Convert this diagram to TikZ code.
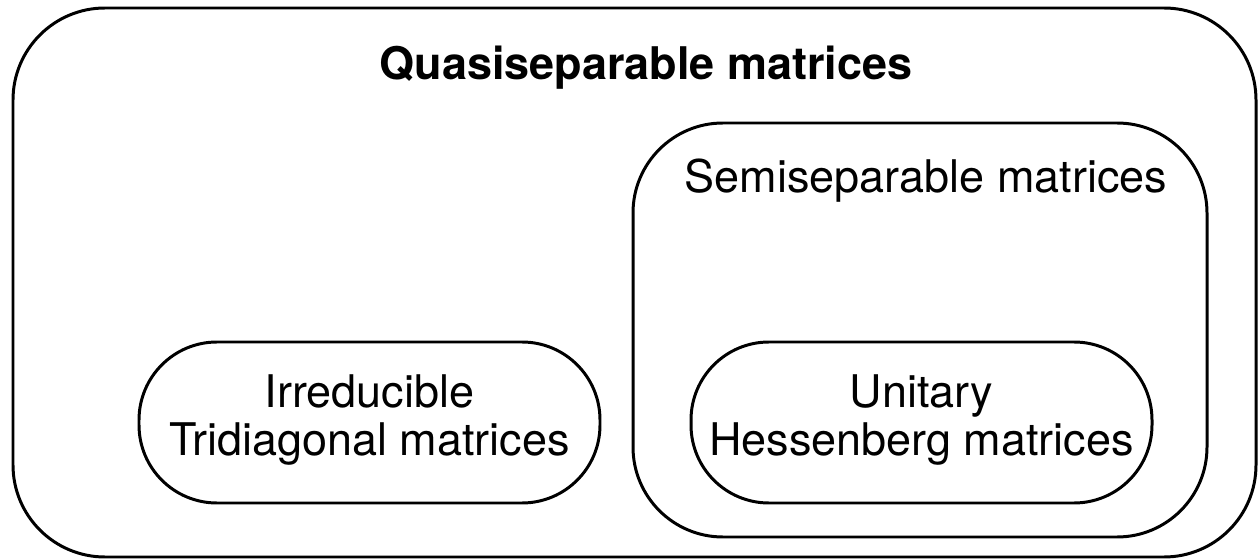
\documentclass[tikz,border=0pt]{standalone}
\usepackage{fontspec}
\setmainfont{TeX Gyre Heros}
\usepackage{tikz}

\begin{document}
\begin{tikzpicture}[x=0.02cm,y=-0.02cm,
    frame/.style={line width=1.7pt},
    lbl/.style={font=\fontsize{25.6}{27}\selectfont, align=center, inner sep=0pt}]
      \useasboundingbox (0,0) rectangle (1258,560);
      \draw [frame, rounded corners=1.84cm] (13,8) rectangle (1256,557);
      \node [lbl, font=\fontsize{25.6}{27}\selectfont\bfseries, anchor=base] (quasi) at (646,80) {Quasiseparable matrices};
      \draw [frame, rounded corners=1.8cm] (633,123) rectangle (1207,537);
      \node [lbl, anchor=base] (semi) at (926,193) {Semiseparable matrices};
      \draw [frame, rounded corners=1.56cm] (139,342) rectangle (600,503);
      \node [lbl] (tridiag) at (369.5,420) {Irreducible\\Tridiagonal matrices};
      \draw [frame, rounded corners=1.56cm] (691,342) rectangle (1152,503);
      \node [lbl] (hessen) at (921.5,420) {Unitary\\Hessenberg matrices};
    \end{tikzpicture}
\end{document}
